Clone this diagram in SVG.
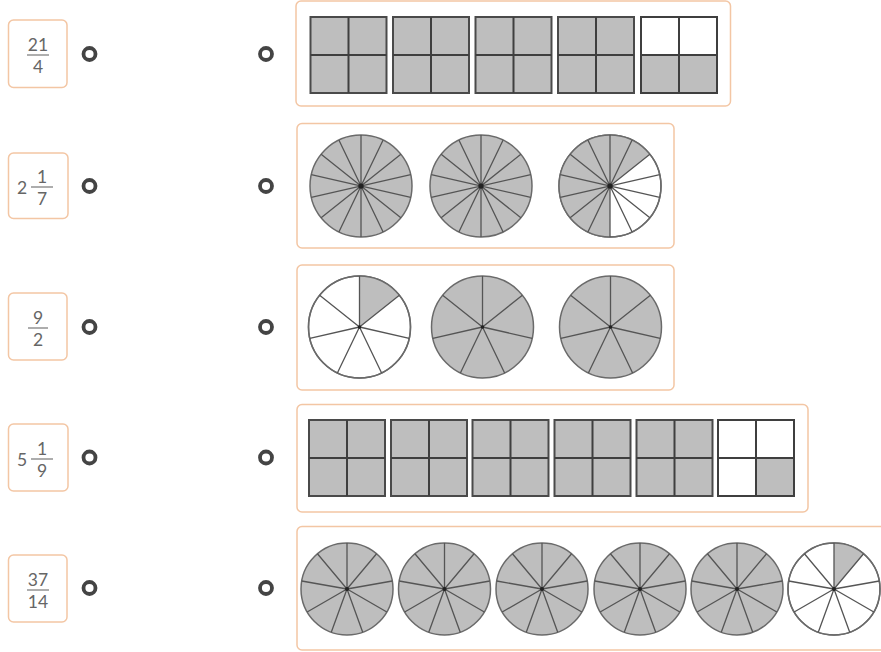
<svg xmlns="http://www.w3.org/2000/svg" xmlns:xlink="http://www.w3.org/1999/xlink" width="881" height="652" viewBox="0 0 881 652">
<style>
.box{fill:#fff;stroke:#f3c6a4;stroke-width:1.5}
.t{font-family:Lato,"Open Sans","Liberation Sans",sans-serif;font-size:17.5px;fill:#666;text-anchor:middle}
.bar{stroke:#777;stroke-width:1.2}
.ring{fill:none;stroke:#444;stroke-width:3.8}
.sq{fill:#bebebe;stroke:#4a4a4a;stroke-width:2}
.wh{fill:#fff}
.gl{stroke:#3f3f3f;stroke-width:2;fill:none}
.pie{fill:#bebebe;stroke:#6a6a6a;stroke-width:1.5}
.pw{fill:#fff;stroke:#6a6a6a;stroke-width:1.5}
.seg{fill:#bebebe;stroke:none}
.sp{stroke:#555;stroke-width:1.3;fill:none}
.dot{fill:#222}
</style>
<defs>
<g id="sp14">
<path class="sp" d="M0,-51V51M22.13,-45.95L-22.13,45.95M39.87,-31.8L-39.87,31.8M49.72,-11.35L-49.72,11.35M49.72,11.35L-49.72,-11.35M39.87,31.8L-39.87,-31.8M22.13,45.95L-22.13,-45.95"/>
<circle class="dot" r="2.6"/>
</g>
<g id="sp7">
<path class="sp" d="M0,0V-51M0,0L39.87,-31.8M0,0L49.72,11.35M0,0L22.13,45.95M0,0L-22.13,45.95M0,0L-49.72,11.35M0,0L-39.87,-31.8"/>
<circle class="dot" r="1.8"/>
</g>
<g id="sp9">
<path class="sp" d="M0,0V-46M0,0L29.57,-35.24M0,0L45.3,-7.99M0,0L39.84,23M0,0L15.73,43.23M0,0L-15.73,43.23M0,0L-39.84,23M0,0L-45.3,-7.99M0,0L-29.57,-35.24"/>
<circle class="dot" r="2"/>
</g>
<g id="full14"><circle class="pie" r="51"/><use xlink:href="#sp14"/></g>
<g id="full7"><circle class="pie" r="51"/><use xlink:href="#sp7"/></g>
<g id="full9"><circle class="pie" r="46"/><use xlink:href="#sp9"/></g>
<g id="sqf"><rect class="sq" width="76" height="76"/><path class="gl" d="M38,0V76M0,38H76"/></g>
</defs>

<g id="connectors"></g>

<g id="label1">
<rect class="box" x="8.5" y="20" width="58.5" height="67.5" rx="5"/>
<text class="t" x="38" y="51">21</text><line class="bar" x1="27" y1="55" x2="49" y2="55"/><text class="t" x="38" y="72.5">4</text>
<circle class="ring" cx="89.5" cy="54" r="6"/>
</g>
<g id="label2">
<rect class="box" x="8.5" y="153" width="59.5" height="65.5" rx="5"/>
<text class="t" x="22" y="193.5">2</text>
<text class="t" x="42" y="183">1</text><line class="bar" x1="31" y1="187" x2="53" y2="187"/><text class="t" x="42" y="204.5">7</text>
<circle class="ring" cx="89.5" cy="186" r="6"/>
</g>
<g id="label3">
<rect class="box" x="8.5" y="293" width="58.5" height="67" rx="5"/>
<text class="t" x="38" y="324">9</text><line class="bar" x1="28" y1="328" x2="48" y2="328"/><text class="t" x="38" y="345.5">2</text>
<circle class="ring" cx="89.5" cy="327" r="6"/>
</g>
<g id="label4">
<rect class="box" x="8.5" y="424" width="59.5" height="67" rx="5"/>
<text class="t" x="22" y="465.5">5</text>
<text class="t" x="42" y="455">1</text><line class="bar" x1="31" y1="459" x2="53" y2="459"/><text class="t" x="42" y="476.5">9</text>
<circle class="ring" cx="89.5" cy="457.5" r="6"/>
</g>
<g id="label5">
<rect class="box" x="8.5" y="555" width="58.5" height="67" rx="5"/>
<text class="t" x="38" y="586">37</text><line class="bar" x1="27" y1="590" x2="49" y2="590"/><text class="t" x="38" y="607.5">14</text>
<circle class="ring" cx="89.5" cy="588" r="6"/>
</g>

<g id="figure1">
<circle class="ring" cx="266" cy="54" r="6"/>
<rect class="box" x="296" y="1" width="434.5" height="105" rx="5"/>
<use xlink:href="#sqf" x="310.5" y="17"/>
<use xlink:href="#sqf" x="393" y="17"/>
<use xlink:href="#sqf" x="475.5" y="17"/>
<use xlink:href="#sqf" x="558" y="17"/>
<g transform="translate(641,17)">
<rect class="sq" width="76" height="76"/><rect class="wh" x="1" y="1" width="74" height="37"/>
<rect class="gl" width="76" height="76"/><path class="gl" d="M38,0V76M0,38H76"/>
</g>
</g>

<g id="figure2">
<circle class="ring" cx="266" cy="186" r="6"/>
<rect class="box" x="297" y="123.5" width="377" height="124.5" rx="5"/>
<use xlink:href="#full14" x="361" y="186"/>
<use xlink:href="#full14" x="481" y="186"/>
<circle class="pw" cx="610" cy="186" r="51"/>
<path class="seg" d="M610,186L610,237A51,51 0 1 1 649.87,154.2Z"/>
<circle cx="610" cy="186" r="51" fill="none" stroke="#6a6a6a" stroke-width="1.5"/>
<use xlink:href="#sp14" x="610" y="186"/>
</g>

<g id="figure3">
<circle class="ring" cx="266" cy="327" r="6"/>
<rect class="box" x="297" y="265" width="377" height="125" rx="5"/>
<circle class="pw" cx="359.5" cy="327" r="51"/>
<path class="seg" d="M359.5,327L359.5,276A51,51 0 0 1 399.37,295.2Z"/>
<circle cx="359.5" cy="327" r="51" fill="none" stroke="#6a6a6a" stroke-width="1.5"/>
<use xlink:href="#sp7" x="359.5" y="327"/>
<use xlink:href="#full7" x="482.5" y="327"/>
<use xlink:href="#full7" x="610.5" y="327"/>
</g>

<g id="figure4">
<circle class="ring" cx="266" cy="457.5" r="6"/>
<rect class="box" x="297" y="404.5" width="511" height="107.5" rx="5"/>
<use xlink:href="#sqf" x="309" y="420"/>
<use xlink:href="#sqf" x="391" y="420"/>
<use xlink:href="#sqf" x="472.5" y="420"/>
<use xlink:href="#sqf" x="554.5" y="420"/>
<use xlink:href="#sqf" x="636.5" y="420"/>
<g transform="translate(718,420)">
<rect class="wh" width="76" height="76"/><rect class="seg" x="38" y="38" width="38" height="38"/>
<rect class="gl" width="76" height="76"/><path class="gl" d="M38,0V76M0,38H76"/>
</g>
</g>

<g id="figure5">
<circle class="ring" cx="266" cy="588" r="6"/>
<rect class="box" x="297" y="526.5" width="600" height="123.5" rx="5"/>
<use xlink:href="#full9" x="347" y="589"/>
<use xlink:href="#full9" x="444.5" y="589"/>
<use xlink:href="#full9" x="542" y="589"/>
<use xlink:href="#full9" x="640" y="589"/>
<use xlink:href="#full9" x="737" y="589"/>
<circle class="pw" cx="834" cy="589" r="46"/>
<path class="seg" d="M834,589L834,543A46,46 0 0 1 863.57,553.76Z"/>
<circle cx="834" cy="589" r="46" fill="none" stroke="#6a6a6a" stroke-width="1.5"/>
<use xlink:href="#sp9" x="834" y="589"/>
</g>
</svg>
